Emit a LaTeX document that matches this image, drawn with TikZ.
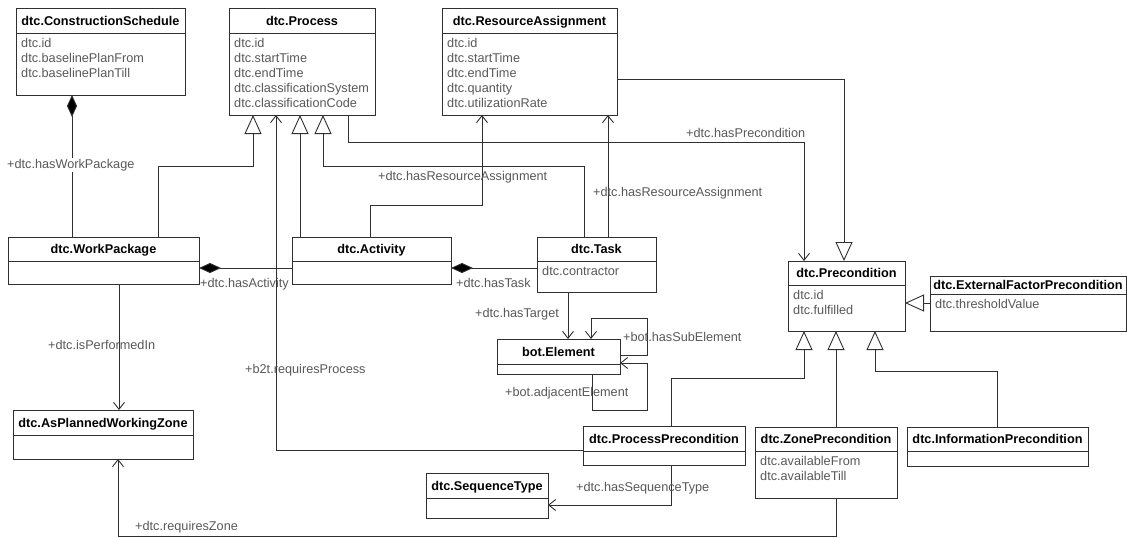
\documentclass[tikz,border=0pt]{standalone}
\usepackage{fontspec}
\setmainfont{Liberation Sans}
\usetikzlibrary{arrows.meta,fit}
\definecolor{txtgray}{HTML}{595959}
\definecolor{linec}{HTML}{303030}
\newcommand{\umlclass}[8]{%
  \node[clsbox, fit={(#2,#3)(#4,#5)}] (#1) {};
  \draw[clsline] (#1.west |- 0,#6) -- (#1.east |- 0,#6);
  \node[clstitle] (#1-t) at ({(#2+#4)/2},{(#3+#6)/2+4.5}) {#7};
  \foreach \a [count=\i] in {#8} {\node[attr] (#1-a\i) at ({#2+5},{#6+14.5+15*(\i-1)}) {\a};}
}
\begin{document}
\begin{tikzpicture}[x=1pt,y=-1pt,
  clsbox/.style={draw=linec, line width=0.9pt, fill=white, inner sep=0pt, outer sep=0pt},
  clsline/.style={draw=linec, line width=0.9pt},
  clstitle/.style={anchor=base, inner sep=0pt, font=\fontsize{12.7}{15}\selectfont\bfseries, text=black},
  attr/.style={anchor=base west, inner sep=0pt, font=\fontsize{12.7}{15}\selectfont, text=txtgray},
  lbl/.style={anchor=base west, inner sep=0pt, font=\fontsize{12.7}{15}\selectfont, text=txtgray},
  conn/.style={draw=linec, line width=0.9pt},
  gen/.style={conn, -{Triangle[open, length=19pt, width=17pt, fill=white]}},
  assoc/.style={conn, -{Straight Barb[length=7pt, width=11pt]}},
  comp/.style={conn, {Diamond[length=22pt, width=10pt, fill=black]}-}
]
\useasboundingbox[fill=white] (0,0) rectangle (1127,538);

% classes
\umlclass{cs}{16}{8}{185}{95}{33}{dtc.ConstructionSchedule}{dtc.id,dtc.baselinePlanFrom,dtc.baselinePlanTill}
\umlclass{proc}{229}{8}{375}{115}{33}{dtc.Process}{dtc.id,dtc.startTime,dtc.endTime,dtc.classificationSystem,dtc.classificationCode}
\umlclass{ra}{442}{8}{617}{115}{33}{dtc.ResourceAssignment}{dtc.id,dtc.startTime,dtc.endTime,dtc.quantity,dtc.utilizationRate}
\umlclass{pre}{788}{261}{905}{331}{285}{dtc.Precondition}{dtc.id,dtc.fulfilled}
\umlclass{ext}{930}{276}{1126}{331}{294}{dtc.ExternalFactorPrecondition}{dtc.thresholdValue}
\umlclass{wp}{8}{237}{199}{284}{261}{dtc.WorkPackage}{}
\umlclass{act}{292}{237}{451}{284}{261}{dtc.Activity}{}
\umlclass{task}{537}{237}{656}{292}{261}{dtc.Task}{dtc.contractor}
\umlclass{elem}{497}{339}{620}{374}{364}{bot.Element}{}
\umlclass{apwz}{13}{410}{193}{459}{435}{dtc.AsPlannedWorkingZone}{}
\umlclass{pp}{583}{426}{745}{465}{451}{dtc.ProcessPrecondition}{}
\umlclass{seq}{426}{473}{548}{518}{498}{dtc.SequenceType}{}
\umlclass{zp}{755}{427}{897}{498}{451}{dtc.ZonePrecondition}{dtc.availableFrom,dtc.availableTill}
\umlclass{ip}{907}{427}{1088}{466}{451}{dtc.InformationPrecondition}{}

% connectors
\draw[comp] (cs.south -| 72,0) -- (wp.north -| 72,0);
\draw[gen] (wp.north -| 158,0) -- (158,166) -| (proc.south -| 253,0);
\draw[assoc] (pp.west |- 0,450) -| (proc.south -| 276,0);
\draw[gen] (act.north -| 300,0) -- (proc.south -| 300,0);
\draw[gen] (task.north -| 584,0) -- (584,166) -| (proc.south -| 323,0);
\draw[assoc] (proc.south -| 348,0) -- (348,142) -| (pre.north -| 804,0);
\draw[gen] (ra.east |- 0,79) -| (pre.north -| 844,0);
\draw[assoc] (act.north -| 370,0) -- (370,205) -| (ra.south -| 482,0);
\draw[assoc] (task.north -| 608,0) -- (ra.south -| 608,0);
\draw[comp] (wp.east |- 0,268) -- (act.west |- 0,268);
\draw[comp] (act.east |- 0,268) -- (task.west |- 0,268);
\draw[assoc] (task.south -| 568,0) -- (elem.north -| 568,0);
\draw[assoc] (elem.east |- 0,355) -| (647,318) -| (elem.north -| 591,0);
\draw[assoc] (elem.south -| 592,0) |- (647,410) |- (elem.east |- 0,363);
\draw[assoc] (wp.south -| 119,0) -- (apwz.north -| 119,0);
\draw[assoc] (zp.south -| 836,0) |- (118,536) -- (apwz.south -| 118,0);
\draw[gen] (pp.north -| 671,0) |- (804,378) -- (pre.south -| 804,0);
\draw[gen] (zp.north -| 836,0) -- (pre.south -| 836,0);
\draw[gen] (ip.north -| 997,0) |- (875,371) -- (pre.south -| 875,0);
\draw[assoc] (pp.south -| 671,0) |- (seq.east |- 0,505);
\draw[gen] (ext.west |- 0,303) -- (pre.east |- 0,303);

% labels
\node[lbl, fill=white, inner sep=1pt] (l-hwp) at (6,168) {+dtc.hasWorkPackage};
\node[lbl] (l-hpre) at (686,137) {+dtc.hasPrecondition};
\node[lbl] (l-hra1) at (378,180) {+dtc.hasResourceAssignment};
\node[lbl] (l-hra2) at (593,196) {+dtc.hasResourceAssignment};
\node[lbl] (l-hact) at (200,287) {+dtc.hasActivity};
\node[lbl] (l-htask) at (456,287) {+dtc.hasTask};
\node[lbl] (l-htgt) at (475,317) {+dtc.hasTarget};
\node[lbl] (l-hsub) at (623,341) {+bot.hasSubElement};
\node[lbl] (l-adj) at (505,396) {+bot.adjacentElement};
\node[lbl] (l-perf) at (48,349) {+dtc.isPerformedIn};
\node[lbl] (l-rproc) at (245,373) {+b2t.requiresProcess};
\node[lbl] (l-rzone) at (135,530) {+dtc.requiresZone};
\node[lbl] (l-hseq) at (576,491) {+dtc.hasSequenceType};
\end{tikzpicture}
\end{document}
